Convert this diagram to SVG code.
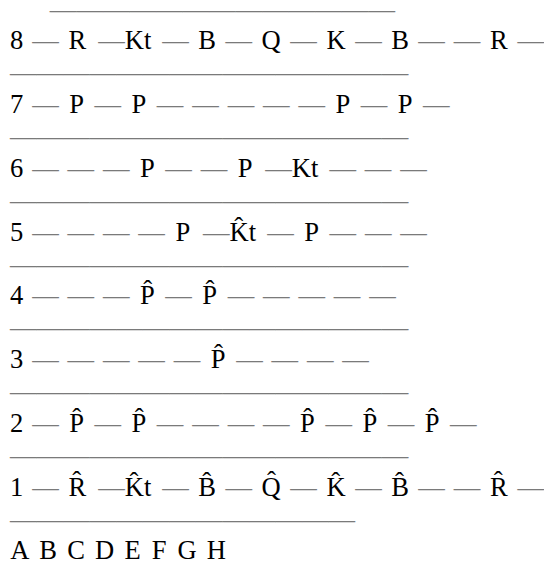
<svg xmlns="http://www.w3.org/2000/svg" width="544" height="564" viewBox="0 0 544 564">
<style>
text{font-family:"Liberation Serif","Times New Roman",serif;font-size:26.56px;fill:#000}
.row{text-anchor:middle}
.rule{text-anchor:start;fill:#7a7a7a}
.d{fill:#7a7a7a}
</style>
<rect width="544" height="564" fill="#fff"/>
<g id="rules">
<text class="rule" x="49.84" y="17.6">—————————————</text>
<text class="rule" x="10" y="81.35">———————————————</text>
<text class="rule" x="10" y="145.1">———————————————</text>
<text class="rule" x="10" y="208.85">———————————————</text>
<text class="rule" x="10" y="272.6">———————————————</text>
<text class="rule" x="10" y="336.35">———————————————</text>
<text class="rule" x="10" y="400.1">———————————————</text>
<text class="rule" x="10" y="463.85">———————————————</text>
<text class="rule" x="10" y="527.6">—————————————</text>
</g>
<g id="rank8"><text class="row" y="49.48"><tspan x="16.64">8</tspan><tspan class="d" x="45.41">—</tspan><tspan x="77.33">R</tspan><tspan x="124.73"><tspan class="d">—</tspan>Kt</tspan><tspan class="d" x="175.63">—</tspan><tspan x="207.15">B</tspan><tspan class="d" x="238.68">—</tspan><tspan x="271.14">Q</tspan><tspan class="d" x="303.59">—</tspan><tspan x="336.05">K</tspan><tspan class="d" x="368.51">—</tspan><tspan x="400.03">B</tspan><tspan class="d" x="431.56">—</tspan><tspan class="d" x="466.96">—</tspan><tspan x="498.86">R</tspan><tspan class="d" x="530.76">—</tspan></text></g>
<g id="rank7"><text class="row" y="113.23"><tspan x="16.64">7</tspan><tspan class="d" x="45.41">—</tspan><tspan x="76.60">P</tspan><tspan class="d" x="107.77">—</tspan><tspan x="138.94">P</tspan><tspan class="d" x="170.10">—</tspan><tspan class="d" x="205.51">—</tspan><tspan class="d" x="240.91">—</tspan><tspan class="d" x="276.32">—</tspan><tspan class="d" x="311.72">—</tspan><tspan x="342.89">P</tspan><tspan class="d" x="374.06">—</tspan><tspan x="405.23">P</tspan><tspan class="d" x="436.39">—</tspan></text></g>
<g id="rank6"><text class="row" y="176.98"><tspan x="16.64">6</tspan><tspan class="d" x="45.41">—</tspan><tspan class="d" x="80.83">—</tspan><tspan class="d" x="116.24">—</tspan><tspan x="147.41">P</tspan><tspan class="d" x="178.58">—</tspan><tspan class="d" x="213.98">—</tspan><tspan x="245.15">P</tspan><tspan x="291.82"><tspan class="d">—</tspan>Kt</tspan><tspan class="d" x="342.72">—</tspan><tspan class="d" x="378.12">—</tspan><tspan class="d" x="413.53">—</tspan></text></g>
<g id="rank5"><text class="row" y="240.73"><tspan x="16.64">5</tspan><tspan class="d" x="45.41">—</tspan><tspan class="d" x="80.83">—</tspan><tspan class="d" x="116.24">—</tspan><tspan class="d" x="151.64">—</tspan><tspan x="182.84">P</tspan><tspan x="229.51"><tspan class="d">—</tspan>K̂t</tspan><tspan class="d" x="280.41">—</tspan><tspan x="311.58">P</tspan><tspan class="d" x="342.74">—</tspan><tspan class="d" x="378.15">—</tspan><tspan class="d" x="413.55">—</tspan></text></g>
<g id="rank4"><text class="row" y="304.48"><tspan x="16.64">4</tspan><tspan class="d" x="45.41">—</tspan><tspan class="d" x="80.83">—</tspan><tspan class="d" x="116.24">—</tspan><tspan x="147.41">P̂</tspan><tspan class="d" x="178.58">—</tspan><tspan x="209.74">P̂</tspan><tspan class="d" x="240.91">—</tspan><tspan class="d" x="276.32">—</tspan><tspan class="d" x="311.72">—</tspan><tspan class="d" x="347.13">—</tspan><tspan class="d" x="382.53">—</tspan></text></g>
<g id="rank3"><text class="row" y="368.23"><tspan x="16.64">3</tspan><tspan class="d" x="45.41">—</tspan><tspan class="d" x="80.83">—</tspan><tspan class="d" x="116.24">—</tspan><tspan class="d" x="151.64">—</tspan><tspan class="d" x="187.07">—</tspan><tspan x="218.24">P̂</tspan><tspan class="d" x="249.41">—</tspan><tspan class="d" x="284.82">—</tspan><tspan class="d" x="320.22">—</tspan><tspan class="d" x="355.63">—</tspan></text></g>
<g id="rank2"><text class="row" y="431.98"><tspan x="16.64">2</tspan><tspan class="d" x="45.41">—</tspan><tspan x="76.60">P̂</tspan><tspan class="d" x="107.77">—</tspan><tspan x="138.94">P̂</tspan><tspan class="d" x="170.10">—</tspan><tspan class="d" x="205.51">—</tspan><tspan class="d" x="240.91">—</tspan><tspan class="d" x="276.32">—</tspan><tspan x="307.49">P̂</tspan><tspan class="d" x="338.65">—</tspan><tspan x="369.82">P̂</tspan><tspan class="d" x="400.99">—</tspan><tspan x="432.16">P̂</tspan><tspan class="d" x="463.33">—</tspan></text></g>
<g id="rank1"><text class="row" y="495.73"><tspan x="16.64">1</tspan><tspan class="d" x="45.41">—</tspan><tspan x="77.33">R̂</tspan><tspan x="124.73"><tspan class="d">—</tspan>K̂t</tspan><tspan class="d" x="175.63">—</tspan><tspan x="207.15">B̂</tspan><tspan class="d" x="238.68">—</tspan><tspan x="271.14">Q̂</tspan><tspan class="d" x="303.59">—</tspan><tspan x="336.05">K̂</tspan><tspan class="d" x="368.51">—</tspan><tspan x="400.03">B̂</tspan><tspan class="d" x="431.56">—</tspan><tspan class="d" x="466.96">—</tspan><tspan x="498.86">R̂</tspan><tspan class="d" x="530.76">—</tspan></text></g>
<g id="files"><text class="row" y="559.48"><tspan x="19.96">A</tspan><tspan x="48.17">B</tspan><tspan x="76.00">C</tspan><tspan x="104.58">D</tspan><tspan x="132.61">E</tspan><tspan x="159.17">F</tspan><tspan x="187.12">G</tspan><tspan x="216.34">H</tspan></text></g>
</svg>
